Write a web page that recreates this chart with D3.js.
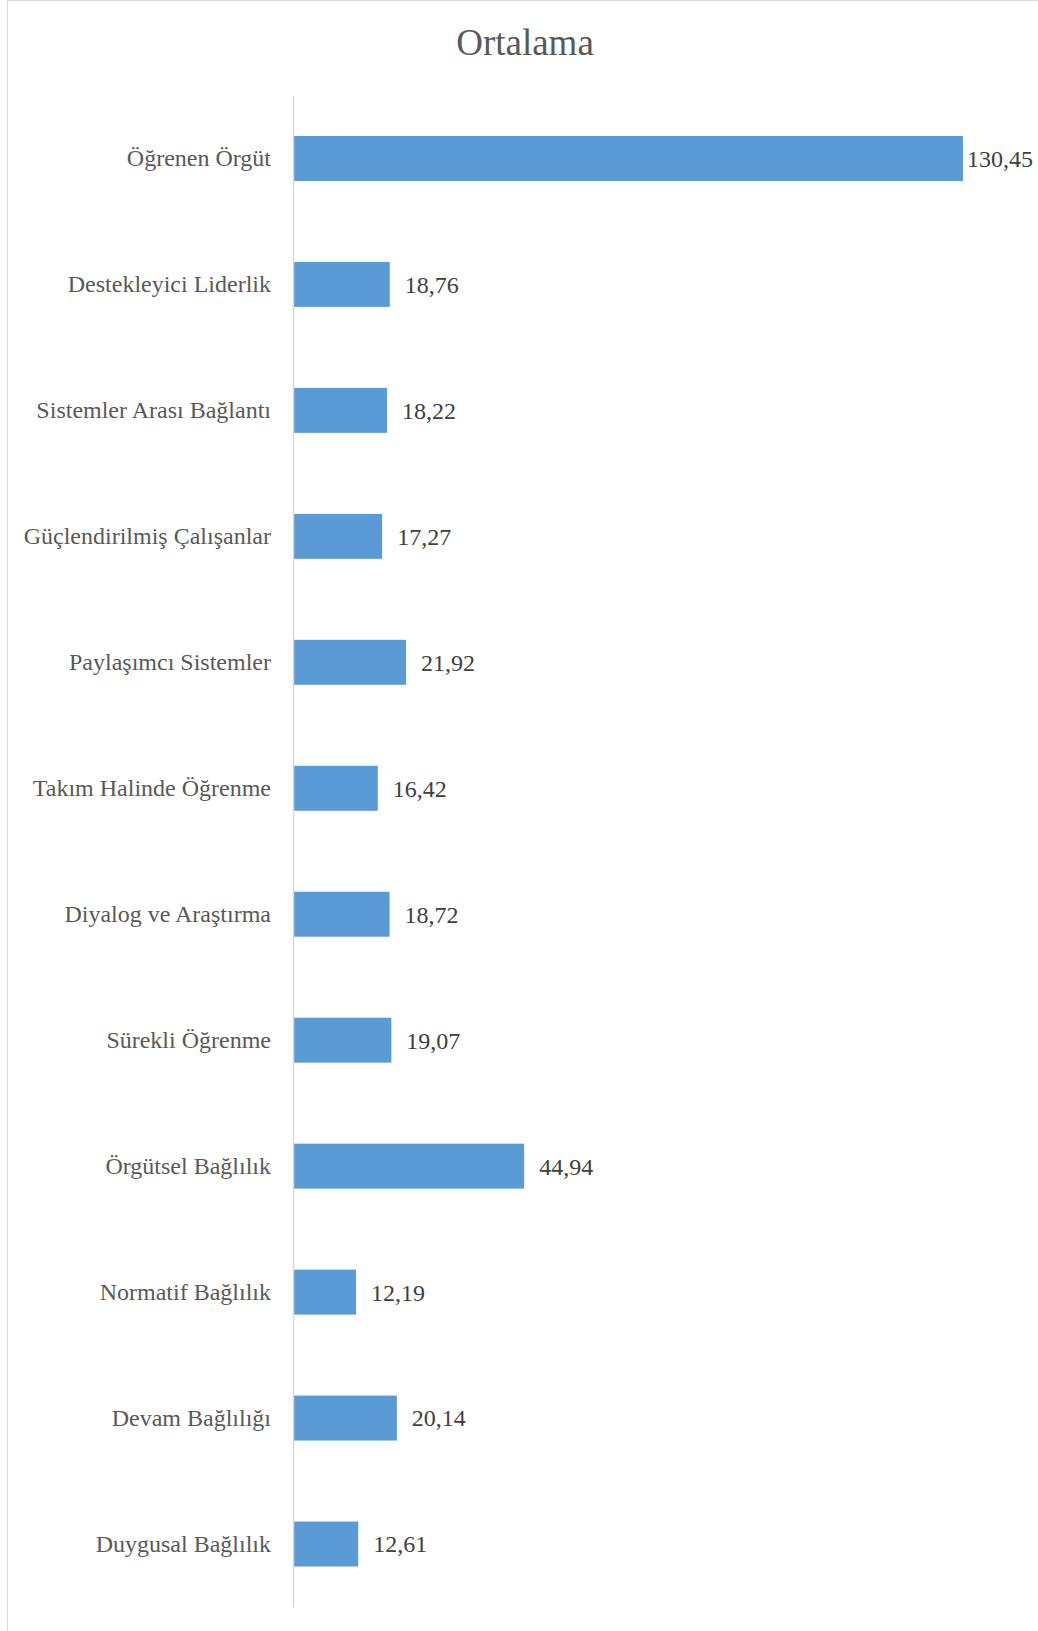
<!DOCTYPE html>
<html>
<head>
<meta charset="utf-8">
<script src="https://cdn.jsdelivr.net/npm/d3@7"></script>
<style>
body{margin:0;background:#fff;}
svg{display:block;}
</style>
</head>
<body>
<script>
// kategoriler ve ortalama degerleri
var categories = ['Öğrenen Örgüt','Destekleyici Liderlik','Sistemler Arası Bağlantı','Güçlendirilmiş Çalışanlar',
	'Paylaşımcı Sistemler','Takım Halinde Öğrenme','Diyalog ve Araştırma','Sürekli Öğrenme',
	'Örgütsel Bağlılık','Normatif Bağlılık','Devam Bağlılığı','Duygusal Bağlılık'];
var values = [130.45,18.76,18.22,17.27,21.92,16.42,18.72,19.07,44.94,12.19,20.14,12.61];
var valueLabels = ['130,45','18,76','18,22','17,27','21,92','16,42','18,72','19,07','44,94','12,19','20,14','12,61'];
var title = 'Ortalama';

var width = 1038,
	height = 1631,
	font = '"Liberation Serif","Times New Roman",serif';

var svg = d3.select('body').append('svg')
	.attr('width',width)
	.attr('height',height);

// cerceve
svg.append('rect')
	.attr('x',7.5).attr('y',0.5)
	.attr('width',width+20).attr('height',height+20)
	.attr('fill','none').attr('stroke','#d9d9d9');

svg.append('text')
	.attr('x',525).attr('y',55)
	.attr('text-anchor','middle')
	.attr('font-family',font).attr('font-size',37)
	.attr('fill','#595959')
	.text(title);

var scale_x = d3.scaleLinear().domain([0,140]).range([293.5,1012]);
var scale_y = d3.scaleBand().domain(categories).range([95.5,1607]).paddingInner(0.643).paddingOuter(0.3215);

var g = svg.append('g');

g.selectAll('rect.bar').data(values).enter().append('rect')
	.attr('class','bar')
	.attr('x',scale_x(0))
	.attr('y',function(d,i){return scale_y(categories[i]);})
	.attr('width',function(d){return scale_x(d)-scale_x(0);})
	.attr('height',scale_y.bandwidth())
	.attr('fill','#5b9bd5');

// eksen cizgisi
var y_axis = d3.axisLeft(scale_y).tickSize(0).tickPadding(22);
var ax = g.append('g').attr('transform','translate('+(scale_x(0)-0.5)+',0)').call(y_axis);
ax.select('.domain').attr('stroke','#d9d9d9').attr('stroke-width',1.5);
ax.selectAll('text')
	.attr('font-family',font).attr('font-size',24)
	.attr('fill','#595959');

// deger etiketleri
g.selectAll('text.val').data(values).enter().append('text')
	.attr('class','val')
	.attr('y',function(d,i){return scale_y(categories[i])+scale_y.bandwidth()/2;})
	.attr('dy','0.35em')
	.attr('font-family',font).attr('font-size',24)
	.attr('fill','#404040')
	.text(function(d,i){return valueLabels[i];})
	.attr('x',function(d){
		var w = this.getComputedTextLength();
		return Math.min(scale_x(d)+15, width-5-w);
	});
</script>
</body>
</html>
